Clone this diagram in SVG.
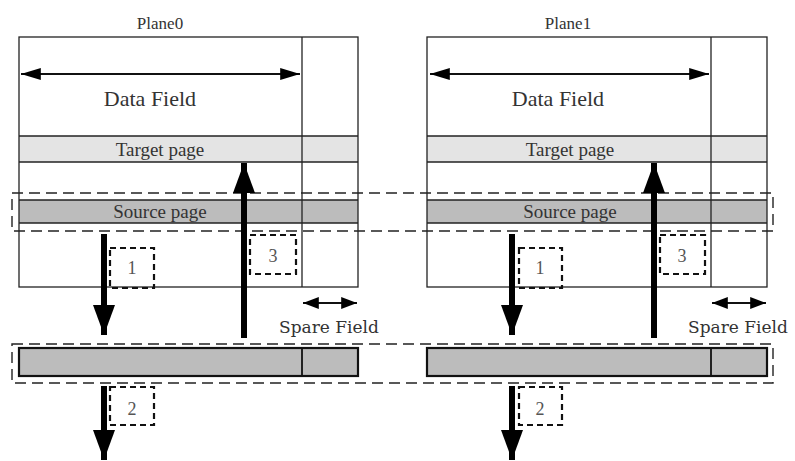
<svg xmlns="http://www.w3.org/2000/svg" width="795" height="461" viewBox="0 0 795 461">
<defs>
<style>
.frame{fill:none;stroke:#222;stroke-width:1.3}
.ln{stroke:#222;stroke-width:1.3}
.tgt{fill:#e4e4e4}
.src{fill:#bcbcbc}
.buf{fill:#bcbcbc;stroke:#111;stroke-width:2.2}
.dash{fill:none;stroke:#222;stroke-width:1.4;stroke-dasharray:11 6}
.nbox{fill:none;stroke:#111;stroke-width:2.2;stroke-dasharray:6 4}
.thick{stroke:#000;stroke-width:6}
.thin{stroke:#111;stroke-width:1.8}
.t{font-family:"Liberation Serif",serif;fill:#333;text-anchor:middle}
.big{font-size:22px}
.mid{font-size:19px}
.ttl{font-size:17px}
.num{font-size:18px;fill:#555}
.sp{font-family:"DejaVu Serif","Liberation Serif",serif;font-size:17px;fill:#333;text-anchor:middle}
</style>
<marker id="hd" viewBox="0 0 30 22" refX="30" refY="11" markerWidth="5" markerHeight="3.67" orient="auto-start-reverse" markerUnits="strokeWidth"><path d="M0,0 L30,11 L0,22 z" fill="#000"/></marker>
<marker id="hsp" viewBox="0 0 20 12" refX="20" refY="6" markerWidth="11" markerHeight="6.6" orient="auto-start-reverse" markerUnits="strokeWidth"><path d="M0,0 L20,6 L0,12 z" fill="#000"/></marker>
<marker id="hsm" viewBox="0 0 16 12" refX="16" refY="6" markerWidth="8.9" markerHeight="6.6" orient="auto-start-reverse" markerUnits="strokeWidth"><path d="M0,0 L16,6 L0,12 z" fill="#000"/></marker>
</defs>
<rect width="795" height="461" fill="#fff"/>

<g id="plane0">
<text class="t ttl" x="160" y="29">Plane0</text>
<rect class="tgt" x="19" y="136" width="339" height="26"/>
<rect class="src" x="19" y="200" width="339" height="23"/>
<rect class="frame" x="19" y="37" width="339" height="250"/>
<line class="ln" x1="302" y1="37" x2="302" y2="287"/>
<line class="ln" x1="19" y1="136" x2="358" y2="136"/>
<line class="ln" x1="19" y1="162" x2="358" y2="162"/>
<line class="ln" x1="19" y1="200" x2="358" y2="200"/>
<line class="ln" x1="19" y1="223" x2="358" y2="223"/>
<text class="t big" x="150" y="106">Data Field</text>
<text class="t mid" x="160" y="156">Target page</text>
<text class="t mid" x="160" y="218">Source page</text>
<text class="sp" x="329" y="333">Spare Field</text>
</g>

<g id="plane1">
<text class="t ttl" x="568" y="29">Plane1</text>
<rect class="tgt" x="427" y="136" width="340" height="26"/>
<rect class="src" x="427" y="200" width="340" height="23"/>
<rect class="frame" x="427" y="37" width="340" height="250"/>
<line class="ln" x1="711" y1="37" x2="711" y2="287"/>
<line class="ln" x1="427" y1="136" x2="767" y2="136"/>
<line class="ln" x1="427" y1="162" x2="767" y2="162"/>
<line class="ln" x1="427" y1="200" x2="767" y2="200"/>
<line class="ln" x1="427" y1="223" x2="767" y2="223"/>
<text class="t big" x="558" y="106">Data Field</text>
<text class="t mid" x="570" y="156">Target page</text>
<text class="t mid" x="570" y="218">Source page</text>
<text class="sp" x="738" y="333">Spare Field</text>
</g>

<g id="source-row">
<rect class="dash" x="12" y="193" width="761" height="38"/>
</g>

<g id="buffer-row">
<rect class="dash" x="12" y="344" width="761" height="39"/>
<rect class="buf" x="19" y="348" width="339" height="28"/>
<line class="thin" x1="302" y1="348" x2="302" y2="376"/>
<rect class="buf" x="427" y="348" width="340" height="28"/>
<line class="thin" x1="711" y1="348" x2="711" y2="376"/>
</g>

<g id="steps">
<rect class="nbox" x="110" y="248" width="44" height="40"/>
<text class="t num" x="132" y="274">1</text>
<rect class="nbox" x="110" y="387" width="44" height="38"/>
<text class="t num" x="132" y="415">2</text>
<rect class="nbox" x="250" y="235" width="46" height="39"/>
<text class="t num" x="273" y="262">3</text>
<rect class="nbox" x="519" y="248" width="43" height="40"/>
<text class="t num" x="540" y="274">1</text>
<rect class="nbox" x="519" y="387" width="43" height="38"/>
<text class="t num" x="540" y="415">2</text>
<rect class="nbox" x="660" y="235" width="45" height="39"/>
<text class="t num" x="682" y="262">3</text>
</g>

<g id="connectors">
<line class="thin" x1="21" y1="74" x2="300" y2="74" marker-start="url(#hsp)" marker-end="url(#hsp)"/>
<line class="thin" x1="430" y1="74" x2="709" y2="74" marker-start="url(#hsp)" marker-end="url(#hsp)"/>
<line class="thin" x1="303" y1="303" x2="357" y2="303" marker-start="url(#hsm)" marker-end="url(#hsm)"/>
<line class="thin" x1="712" y1="303" x2="766" y2="303" marker-start="url(#hsm)" marker-end="url(#hsm)"/>
<line class="thick" x1="104" y1="234" x2="104" y2="335" marker-end="url(#hd)"/>
<line class="thick" x1="104" y1="386" x2="104" y2="460" marker-end="url(#hd)"/>
<line class="thick" x1="244" y1="338" x2="244" y2="163" marker-end="url(#hd)"/>
<line class="thick" x1="512" y1="234" x2="512" y2="335" marker-end="url(#hd)"/>
<line class="thick" x1="512" y1="386" x2="512" y2="460" marker-end="url(#hd)"/>
<line class="thick" x1="654" y1="338" x2="654" y2="163" marker-end="url(#hd)"/>
</g>
</svg>
